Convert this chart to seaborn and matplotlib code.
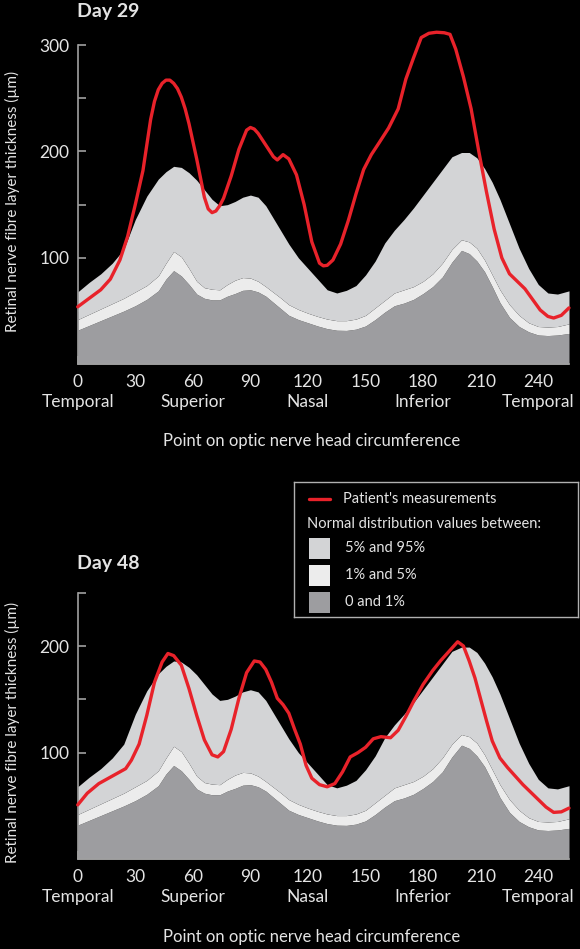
import matplotlib
matplotlib.use("Agg")
import matplotlib.pyplot as plt
from matplotlib.patches import Rectangle
from matplotlib.ticker import FixedLocator
import seaborn as sns

# normal distribution bands (same for both days)
band_pos = [0, 6, 12, 18, 24, 30, 36, 42, 46, 50, 54, 58, 62, 66, 70, 74, 78, 82, 86, 90,
            94, 98, 102, 106, 110, 115, 120, 125, 130, 135, 140, 145, 150, 155, 160, 165,
            170, 175, 180, 185, 190, 195, 200, 204, 208, 212, 216, 220, 225, 230, 235, 240,
            245, 250, 256]
pct95 = [68, 77, 85, 95, 108, 136, 158, 174, 181, 186, 185, 180, 173, 164, 155, 149, 150, 153,
         157, 159, 157, 149, 137, 125, 113, 100, 90, 80, 70, 67, 69.5, 74, 84, 97, 114, 126,
         136, 147, 159, 171, 183, 195, 199, 199, 194, 184, 171, 155, 132, 109, 90, 75, 67, 66, 69]
pct5 = [42, 47, 52, 57, 62, 68, 74, 83, 95, 106, 101, 90, 78, 72, 70.5, 70, 75, 79, 81.5, 81,
        78, 73, 67.5, 62, 56, 51.5, 48, 45, 42.5, 41, 41, 42.5, 46, 53, 60, 67, 70, 73, 78, 85,
        95, 108, 117, 115, 109, 98, 84, 70, 56, 46, 39, 35.5, 35, 35.5, 38]
pct1 = [32, 36.5, 41, 45.5, 50, 55, 61, 69, 80, 88, 83, 75, 66, 62, 60.5, 60.5, 64, 66.5, 69.5,
        70, 68, 64, 58, 52, 46, 42, 39, 36, 33.5, 32, 31.8, 33, 36, 42, 49, 55, 57.5, 61, 66.5,
        73, 82, 96, 107, 104, 97, 87, 73, 58, 44, 35.5, 30.5, 27.5, 27, 27.5, 29]

# patient's measurements, day 29
pos29 = [0, 6, 12, 17, 22, 26, 30, 34, 38, 40, 42, 44, 46, 48, 50, 52, 54, 56, 58, 62, 66, 68,
         70, 72, 74, 76, 80, 84, 88, 90, 92, 94, 98, 102, 104, 107, 110, 114, 118, 122, 126,
         128, 130, 133, 137, 141, 145, 149, 153, 157, 162, 167, 171, 175, 179, 183, 187, 191,
         194, 197, 201, 205, 209, 213, 217, 221, 225, 229, 233, 237, 241, 245, 248, 252, 256]
day29 = [54, 62, 70, 80, 98, 120, 150, 182, 230, 247, 258, 264, 267, 267, 264, 259, 251, 240,
         226, 193, 157, 146, 142.5, 144, 149, 156, 177, 202, 220, 222.5, 221, 217, 206, 195,
         192, 197, 193, 178, 150, 115, 95, 92.5, 93, 98, 113, 135, 160, 183, 197, 208, 222,
         240, 268, 288, 307, 311, 312, 311.5, 310, 296, 270, 240, 200, 162, 127, 100, 85, 78,
         71, 61, 51, 45, 43.5, 46, 53]

# patient's measurements, day 48
pos48 = [0, 5, 11, 18, 25, 28, 32, 36, 40, 44, 47, 50, 54, 58, 62, 66, 70, 73, 76, 80, 84, 88,
         92, 95, 98, 101, 104, 107, 110, 113, 116, 119, 122, 126, 130, 134, 138, 142, 146, 150,
         154, 158, 163, 167, 171, 175, 180, 185, 189, 193, 196, 198, 201, 204, 207, 210, 213,
         216, 220, 224, 228, 232, 236, 240, 244, 248, 252, 256]
day48 = [51, 62, 71, 78, 85, 93, 108, 135, 166, 185, 193, 191, 182, 160, 135, 112, 98, 96, 101,
         122, 151, 175, 186, 185, 178, 166, 151, 145, 137, 122, 108, 88, 76, 70, 68, 71, 82, 96,
         100, 105, 113, 115, 114, 121, 134, 148, 164, 177, 186, 194, 200, 204, 200, 186, 170,
         150, 130, 111, 95, 86, 78, 70, 63, 56, 49, 44, 44.5, 48]

xticks = [0, 30, 60, 90, 120, 150, 180, 210, 240]
xlabels = ["0\nTemporal", "30", "60\nSuperior", "90", "120\nNasal", "150",
           "180\nInferior", "210", "240\nTemporal"]

C_LIGHT = "#d3d4d6"
C_WHITE = "#ececec"
C_DARK = "#9d9da0"
C_RED = "#e8222a"
C_TXT = "#e4e4e4"
C_AX = "#a0a0a0"

sns.set_theme(style="ticks", rc={
    "figure.facecolor": "black", "axes.facecolor": "black", "savefig.facecolor": "black",
    "axes.edgecolor": C_AX, "xtick.color": C_AX, "ytick.color": C_AX,
    "text.color": C_TXT, "axes.labelcolor": C_TXT,
})
plt.rcParams["font.family"] = ["Lato", "DejaVu Sans"]

W, H = 580, 949
fig = plt.figure(figsize=(W / 100, H / 100), dpi=100)


def px_axes(left, top, right, bottom):
    return fig.add_axes([left / W, 1 - bottom / H, (right - left) / W, (bottom - top) / H])


def draw_panel(ax, xs, ys, ymax, title, top_px, bottom_px):
    ax.fill_between(band_pos, 0, pct1, color=C_DARK, lw=0)
    ax.fill_between(band_pos, pct1, pct5, color=C_WHITE, lw=0)
    ax.fill_between(band_pos, pct5, pct95, color=C_LIGHT, lw=0)
    sns.lineplot(x=xs, y=ys, ax=ax, color=C_RED, linewidth=2.4, zorder=5)
    ax.lines[-1].set_clip_on(False)
    ax.lines[-1].set_solid_joinstyle("round")
    ax.set_xlim(0, 256)
    ax.set_ylim(0, ymax)
    sns.despine(ax=ax)
    ax.spines["left"].set_bounds(0, ymax)
    ax.spines["bottom"].set_bounds(0, 256)
    for s in ("left", "bottom"):
        ax.spines[s].set_linewidth(1.2)
    ax.set_xticks(xticks)
    ax.set_xticklabels(xlabels, fontsize=12.5, color=C_TXT, linespacing=1.3)
    ax.set_yticks([t for t in range(100, ymax + 1, 100)])
    ax.yaxis.set_minor_locator(FixedLocator([50, 150, 250]))
    ax.tick_params(axis="both", which="both", direction="in", length=6, width=1.2)
    ax.tick_params(axis="x", pad=7)
    ax.tick_params(axis="y", pad=6, labelsize=12.5, labelcolor=C_TXT)
    ax.set_xlabel("Point on optic nerve head circumference", fontsize=12)
    ax.set_ylabel("")
    fig.text(77 / W, 1 - top_px / H, title, ha="left", va="center",
             fontsize=14, fontweight="bold")
    fig.text(12 / W, 1 - bottom_px / H, "Retinal nerve fibre layer thickness (µm)",
             rotation=90, ha="center", va="center", fontsize=11)


ax1 = px_axes(77.7, 45, 569, 364.3)
draw_panel(ax1, pos29, day29, 300, "Day 29", 12, 201)
ax1.xaxis.set_label_coords(0.477, -0.215)

ax2 = px_axes(77.7, 592.7, 569, 859.3)
draw_panel(ax2, pos48, day48, 250, "Day 48", 563, 732)
ax2.xaxis.set_label_coords(0.477, -0.262)

# legend box
lax = px_axes(294.3, 481.7, 578.3, 616.7)
lax.set_zorder(10)
lax.set_xlim(0, 284)
lax.set_ylim(135, 0)
lax.set_xticks([])
lax.set_yticks([])
for s in lax.spines.values():
    s.set_visible(True)
    s.set_color("#b0b0b0")
    s.set_linewidth(1)
lax.plot([15, 36], [17.3, 17.3], color=C_RED, lw=2.4)
lax.text(49, 17.3, "Patient's measurements", va="center", fontsize=10.5)
lax.text(13, 42.3, "Normal distribution values between:", va="center", fontsize=10.5)
for yc, col, lab in [(66.6, C_LIGHT, "5% and 95%"), (93.3, C_WHITE, "1% and 5%"),
                     (120.6, C_DARK, "0 and 1%")]:
    lax.add_patch(Rectangle((15, yc - 10.5), 21, 21, color=col, lw=0))
    lax.text(50.7, yc, lab, va="center", fontsize=10.5)

fig.savefig("out.png", dpi=100)
